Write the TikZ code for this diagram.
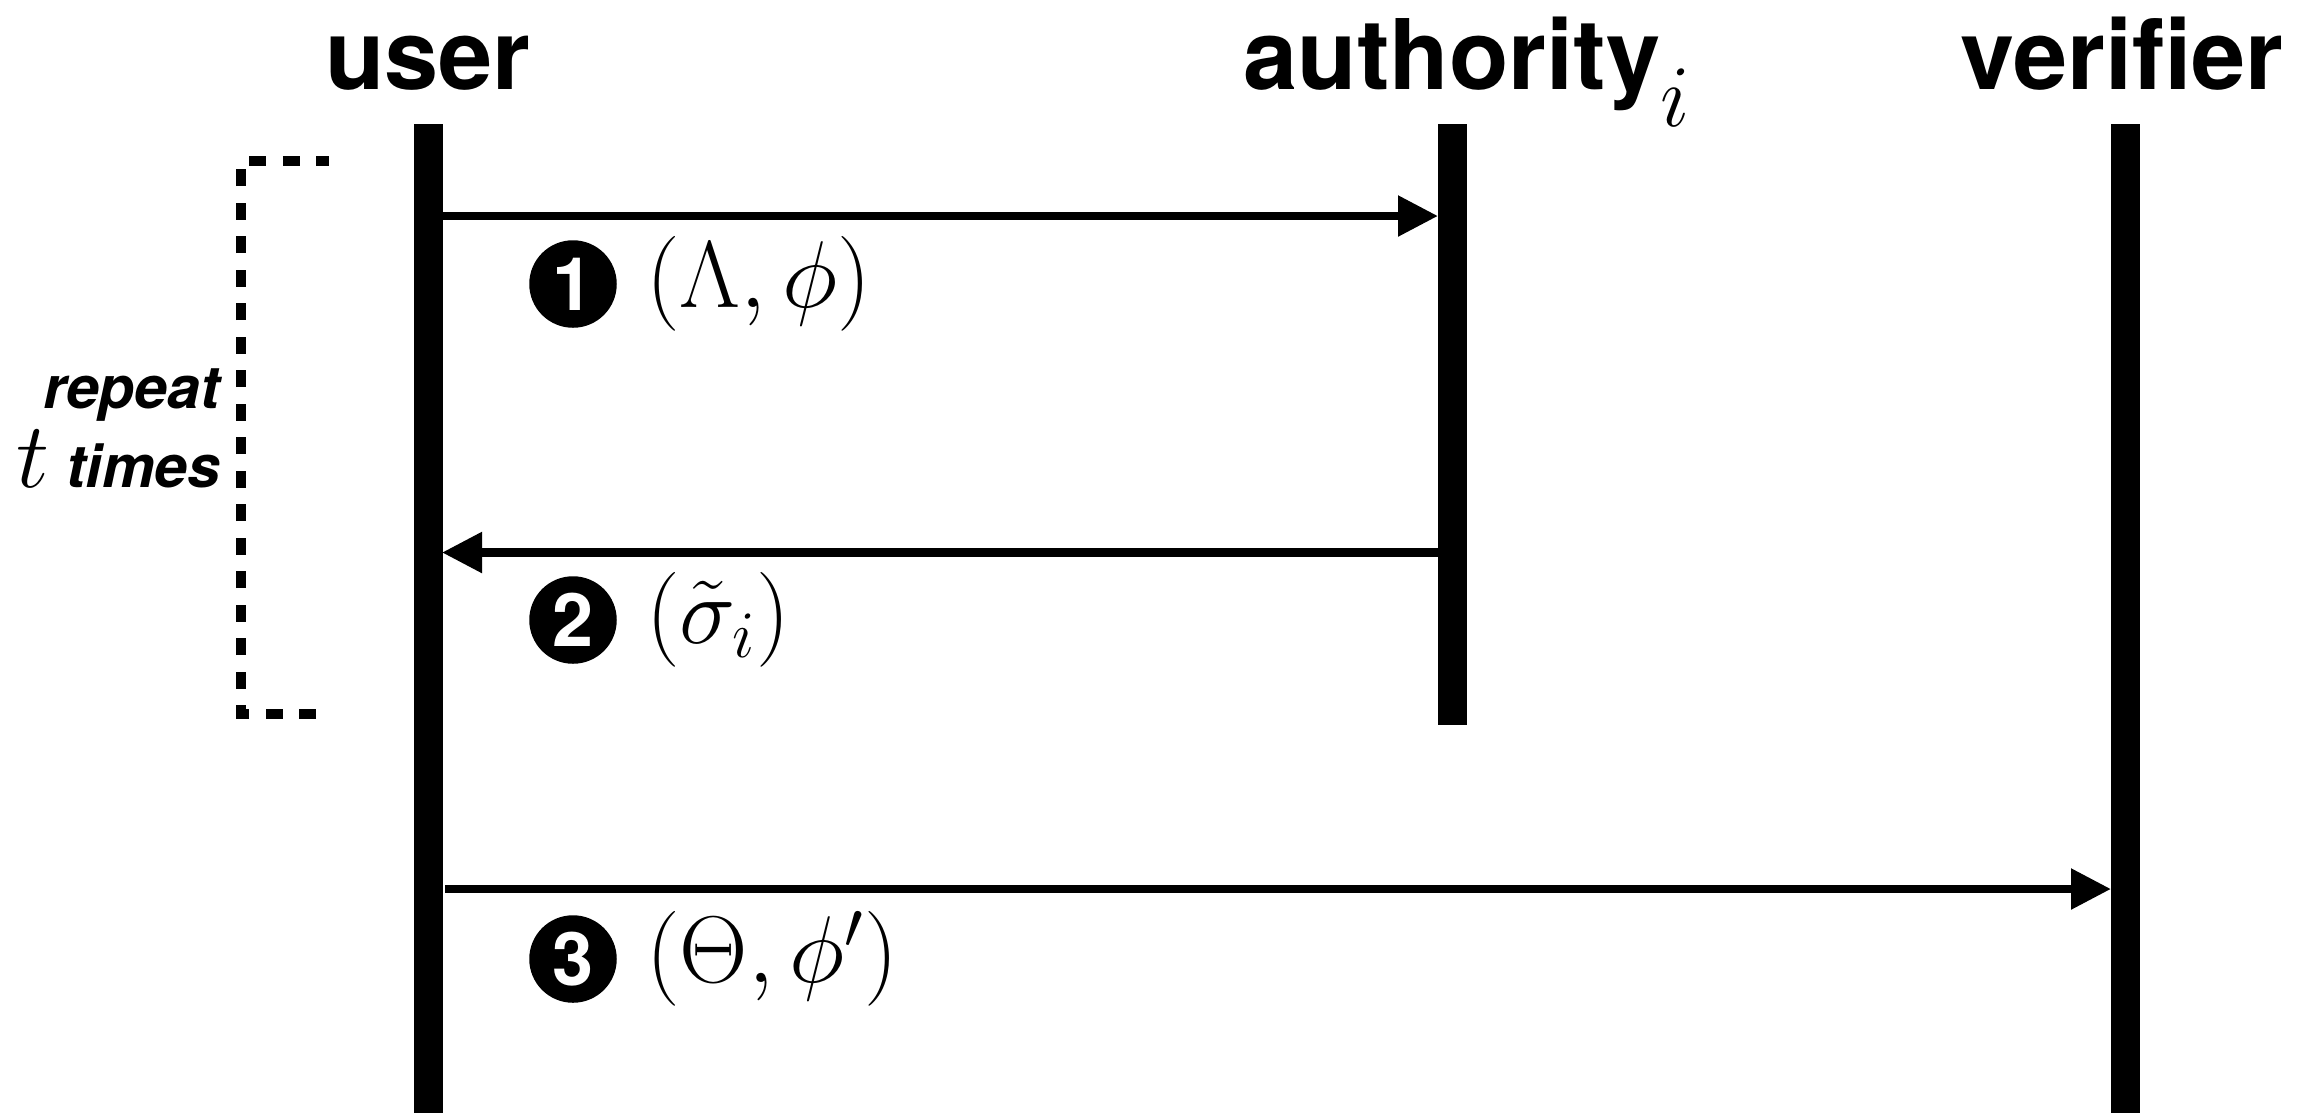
\RequirePackage{fix-cm}
\documentclass[tikz,border=0pt]{standalone}
\usepackage{fontspec}
\setsansfont{TeX Gyre Heros}
\usetikzlibrary{arrows.meta,positioning}

\begin{document}
\begin{tikzpicture}[font=\sffamily\bfseries, >={Triangle[length=0.4cm,width=0.39cm]}]
	\tikzset{lifeline/.style={line width=0.29cm},
		msg/.style={->, line width=0.085cm},
		actor/.style={anchor=base, inner sep=0pt, font=\sffamily\bfseries\fontsize{27.7}{33}\selectfont},
		num/.style={circle, fill=black, text=white, inner sep=0pt, minimum size=0.875cm, font=\sffamily\bfseries\fontsize{21}{25}\selectfont},
		msg label/.style={inner sep=0pt, text height=20.25pt, text depth=6.75pt, font=\fontsize{27}{32}\selectfont},
		note/.style={anchor=base east, inner sep=0pt, font=\sffamily\bfseries\itshape\fontsize{16.8}{20}\selectfont}}
	\useasboundingbox (0,0) rectangle (23.09,-11.13);
	% lifelines
	\coordinate (user top) at (4.28,-1.24);
	\coordinate (user bot) at (4.28,-11.13);
	\coordinate (auth top) at (14.52,-1.24);
	\coordinate (auth bot) at (14.52,-7.25);
	\coordinate (ver top) at (21.25,-1.24);
	\coordinate (ver bot) at (21.25,-11.13);
	\draw[lifeline] (user top)--(user bot);
	\draw[lifeline] (auth top)--(auth bot);
	\draw[lifeline] (ver top)--(ver bot);
	\node[actor] (user) at (4.28,-0.89) {user};
	\node[actor] (auth) at (14.52,-0.89) {authority\rlap{\raisebox{-0.37cm}{\fontsize{25}{30}\selectfont$i$}}};
	\node[actor] (ver) at (21.22,-0.89) {verifier};
	% messages
	\coordinate (u1) at (4.42,-2.16);
	\coordinate (a1) at (14.38,-2.16);
	\coordinate (a2) at (14.38,-5.525);
	\coordinate (u2) at (4.42,-5.525);
	\coordinate (u3) at (4.45,-8.89);
	\coordinate (v3) at (21.11,-8.89);
	\draw[msg] (u1)--(a1);
	\draw[msg] (a2)--(u2);
	\draw[msg] (u3)--(v3);
	\node[num] (n1) at (5.73,-2.84) {1};
	\node[num] (n2) at (5.73,-6.20) {2};
	\node[num] (n3) at (5.73,-9.59) {3};
	\node[msg label, right=0.28cm of n1] (m1) {$(\Lambda,\phi)$};
	\node[msg label, right=0.28cm of n2] (m2) {$(\tilde{\sigma}_i)$};
	\node[msg label, right=0.28cm of n3] (m3) {$(\Theta,\phi')$};
	% repeat bracket
	\coordinate (b1) at (3.16,-7.14);
	\coordinate (b2) at (2.41,-7.14);
	\coordinate (b3) at (2.41,-1.61);
	\coordinate (b4) at (3.29,-1.61);
	\draw[line width=0.095cm, dash pattern=on 0.17cm off 0.165cm] (b1)--(b2)--(b3)--(b4);
	\node[note] (rep) at (2.21,-4.08) {repeat};
	\node[note] (tim) at (2.21,-4.87) {{\fontsize{26.5}{31}\selectfont$t$} times};
\end{tikzpicture}
\end{document}
